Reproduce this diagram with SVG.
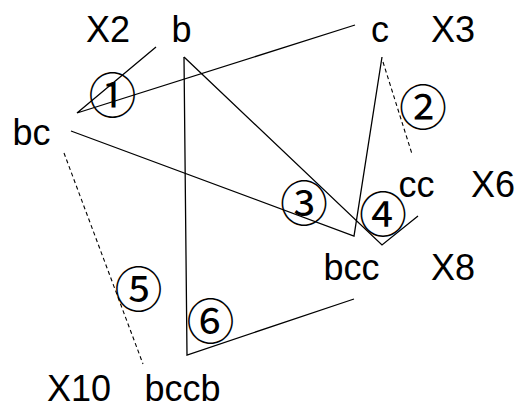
<svg xmlns="http://www.w3.org/2000/svg" width="528" height="414" viewBox="0 0 528 414">
  <style>
    .lbl { font-family: "Liberation Sans", Arial, sans-serif; font-size: 36px; fill: #000; }
    .num { font-family: "Noto Sans CJK JP", "DejaVu Sans", sans-serif; font-size: 48px; fill: #000; text-anchor: middle; }
    .edge { fill: none; stroke: #000; stroke-width: 1.3; }
    .dash { fill: none; stroke: #000; stroke-width: 1.1; stroke-dasharray: 4 3; }
  </style>
  <rect width="528" height="414" fill="#fff"/>

  <g id="connectors">
    <polyline class="edge" points="156,47 77,113 355,25"/>
    <polyline class="edge" points="184,57 187,355 354,299"/>
    <polyline class="edge" points="184,57 382,245 418,216"/>
    <polyline class="edge" points="71,131 354,236 382,57"/>
    <line class="dash" x1="383" y1="62" x2="412" y2="154"/>
    <line class="dash" x1="64" y1="153" x2="143" y2="364"/>
  </g>

  <g id="edge-labels">
    <text class="num" x="112.5" y="112.5">①</text>
    <text class="num" x="423" y="125">②</text>
    <text class="num" x="304" y="221">③</text>
    <text class="num" x="383" y="231.5">④</text>
    <text class="num" x="138.5" y="307">⑤</text>
    <text class="num" x="210.5" y="338.5">⑥</text>
  </g>

  <g id="node-b"><text class="lbl" x="171.6" y="42">b</text></g>
  <g id="node-c"><text class="lbl" x="371" y="42">c</text><text class="lbl" x="431" y="42">X3</text></g>
  <g id="node-x2"><text class="lbl" x="86" y="42">X2</text></g>
  <g id="node-bc"><text class="lbl" x="12.6" y="145">bc</text></g>
  <g id="node-cc"><text class="lbl" x="398.6" y="197">cc</text><text class="lbl" x="471" y="197">X6</text></g>
  <g id="node-bcc"><text class="lbl" x="323.6" y="280">bcc</text><text class="lbl" x="431" y="280">X8</text></g>
  <g id="node-bccb"><text class="lbl" x="144.6" y="401">bccb</text><text class="lbl" x="47" y="401">X10</text></g>
</svg>
